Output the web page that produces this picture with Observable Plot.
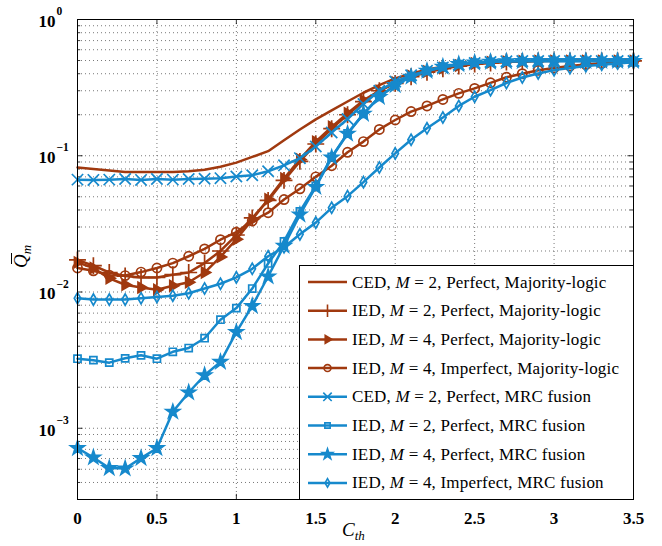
<!DOCTYPE html>
<html><head><meta charset="utf-8">
<script src="https://cdn.jsdelivr.net/npm/d3@7"></script>
<script src="https://cdn.jsdelivr.net/npm/@observablehq/plot@0.6"></script>
<style>body{margin:0;background:#fff}</style>
</head><body><div id="chart"></div>
<script>
// ---------- data ----------
const cth = [0,0.1,0.2,0.3,0.4,0.5,0.6,0.7,0.8,0.9,1.0,1.1,1.2,1.3,1.4,1.5,1.6,1.7,1.8,1.9,2.0,2.1,2.2,2.3,2.4,2.5,2.6,2.7,2.8,2.9,3.0,3.1,3.2,3.3,3.4,3.5];

const cedM2PerfMaj = [0.082,0.080,0.078,0.076,0.076,0.076,0.076,0.077,0.079,0.083,0.089,0.098,0.108,0.130,0.156,0.185,0.215,0.250,0.290,0.330,0.370,0.400,0.430,0.450,0.465,0.475,0.485,0.490,0.495,0.497,0.498,0.498,0.498,0.498,0.498,0.498];
const iedM2PerfMaj = [0.0172,0.0156,0.0139,0.0131,0.0128,0.0128,0.0134,0.0139,0.0163,0.0200,0.0262,0.035,0.047,0.066,0.091,0.122,0.158,0.200,0.250,0.300,0.340,0.380,0.410,0.435,0.455,0.470,0.480,0.488,0.493,0.496,0.497,0.497,0.497,0.497,0.497,0.497];
const iedM4PerfMaj = [0.0165,0.0150,0.0126,0.0113,0.0108,0.0104,0.0111,0.0118,0.0139,0.0181,0.0244,0.034,0.048,0.068,0.094,0.127,0.163,0.205,0.255,0.300,0.345,0.385,0.415,0.440,0.460,0.475,0.485,0.490,0.494,0.496,0.497,0.497,0.497,0.497,0.497,0.497];
const iedM4ImpMaj  = [0.0150,0.0143,0.0133,0.0132,0.0140,0.0150,0.0163,0.0183,0.0207,0.0242,0.0275,0.0332,0.0382,0.0477,0.0572,0.070,0.0845,0.106,0.127,0.156,0.183,0.211,0.232,0.259,0.287,0.312,0.343,0.377,0.400,0.424,0.440,0.455,0.467,0.477,0.485,0.492];
const cedM2PerfMrc = [0.0668,0.0665,0.0668,0.0675,0.0665,0.0675,0.0668,0.0675,0.0678,0.0685,0.0705,0.072,0.077,0.085,0.096,0.117,0.148,0.186,0.240,0.300,0.350,0.390,0.420,0.445,0.465,0.480,0.488,0.493,0.495,0.496,0.496,0.496,0.496,0.496,0.496,0.496];
const iedM2PerfMrc = [0.00324,0.00316,0.00303,0.00326,0.00343,0.00324,0.00364,0.00388,0.00458,0.00626,0.00762,0.0106,0.0162,0.0235,0.039,0.060,0.098,0.146,0.203,0.270,0.330,0.380,0.420,0.450,0.470,0.482,0.489,0.493,0.495,0.496,0.496,0.496,0.496,0.496,0.496,0.496];
const iedM4PerfMrc = [0.000714,0.00061,0.00051,0.000506,0.000604,0.000714,0.00132,0.00183,0.00245,0.00307,0.00508,0.0079,0.013,0.0218,0.037,0.059,0.097,0.145,0.203,0.270,0.330,0.380,0.420,0.450,0.470,0.482,0.489,0.493,0.495,0.496,0.496,0.496,0.496,0.496,0.496,0.496];
const iedM4ImpMrc  = [0.0090,0.0088,0.0088,0.0088,0.0090,0.0092,0.0094,0.0098,0.0106,0.0115,0.0128,0.0148,0.0183,0.0213,0.0265,0.0323,0.0415,0.0505,0.064,0.082,0.104,0.131,0.159,0.191,0.232,0.271,0.303,0.342,0.375,0.402,0.425,0.440,0.455,0.466,0.476,0.486];

const legendLabels = [
  "CED, |M| = 2, Perfect, Majority-logic",
  "IED, |M| = 2, Perfect, Majority-logic",
  "IED, |M| = 4, Perfect, Majority-logic",
  "IED, |M| = 4, Imperfect, Majority-logic",
  "CED, |M| = 2, Perfect, MRC fusion",
  "IED, |M| = 2, Perfect, MRC fusion",
  "IED, |M| = 4, Perfect, MRC fusion",
  "IED, |M| = 4, Imperfect, MRC fusion"
];
const seriesValues = [cedM2PerfMaj, iedM2PerfMaj, iedM4PerfMaj, iedM4ImpMaj, cedM2PerfMrc, iedM2PerfMrc, iedM4PerfMrc, iedM4ImpMrc];

const xTicks = [0,0.5,1,1.5,2,2.5,3,3.5];
const yMajor = [1e-3,1e-2,1e-1,1];
const yExponents = ["\u22123","\u22122","\u22121","0"];
const yMinor = [3e-4,4e-4,5e-4,6e-4,7e-4,8e-4,9e-4,2e-3,3e-3,4e-3,5e-3,6e-3,7e-3,8e-3,9e-3,2e-2,3e-2,4e-2,5e-2,6e-2,7e-2,8e-2,9e-2,0.2,0.3,0.4,0.5,0.6,0.7,0.8,0.9];

// ---------- styles ----------
const BROWN = "#a0390f", BLUE = "#1689cc";
const styles = [
  {color: BROWN, symbol: null},
  {color: BROWN, symbol: "plus", r: 5.5, fill: "none"},
  {color: BROWN, symbol: "triangle", r: 3.9, fill: BROWN, rotate: 90},
  {color: BROWN, symbol: "circle", r: 4.6, fill: "none"},
  {color: BLUE, symbol: "times", r: 5.2, fill: "none"},
  {color: BLUE, symbol: "square", r: 4, fill: "none"},
  {color: BLUE, symbol: "star", r: 4.3, fill: BLUE},
  {color: BLUE, symbol: "diamond", r: 3.4, fill: "none"}
];

const series = seriesValues.map((vals, i) => cth.map((x, j) => ({x, y: vals[j], s: i})));

const YMIN = 3e-4, YMAX = 1, XMIN = 0, XMAX = 3.5;
const FONT = "'Liberation Serif', 'Times New Roman', serif";

const marks = [
  Plot.ruleY(yMinor.concat(yMajor), {stroke: "#555", strokeWidth: 0.8, strokeDasharray: "1,3"}),
  Plot.ruleX(xTicks.slice(1, -1), {stroke: "#555", strokeWidth: 0.8, strokeDasharray: "1,3"}),
  // inward ticks
  Plot.ruleX(xTicks, {y1: YMIN, y2: YMIN * 1.09, stroke: "black", strokeWidth: 0.8}),
  Plot.ruleX(xTicks, {y1: YMAX, y2: YMAX / 1.09, stroke: "black", strokeWidth: 0.8}),
  Plot.ruleY(yMajor, {x1: XMIN, x2: XMIN + 0.035, stroke: "black", strokeWidth: 0.8}),
  Plot.ruleY(yMajor, {x1: XMAX, x2: XMAX - 0.035, stroke: "black", strokeWidth: 0.8}),
  Plot.ruleY(yMinor, {x1: XMIN, x2: XMIN + 0.02, stroke: "black", strokeWidth: 0.8}),
  Plot.ruleY(yMinor, {x1: XMAX, x2: XMAX - 0.02, stroke: "black", strokeWidth: 0.8})
];

series.forEach((data, i) => {
  const st = styles[i];
  marks.push(Plot.line(data, {x: "x", y: "y", stroke: st.color, strokeWidth: 2.5}));
  if (st.symbol) {
    marks.push(Plot.dot(data, {x: "x", y: "y", symbol: () => st.symbol, r: st.r, stroke: st.color,
      fill: st.fill, strokeWidth: 1.7, rotate: st.rotate || 0}));
  }
});

marks.push(Plot.frame({stroke: "black", strokeWidth: 1}));
// tick labels
marks.push(Plot.text(xTicks, {x: d => d, y: () => YMIN, dy: 19, text: d => String(d),
  fontSize: 17, fontWeight: "bold", fontFamily: FONT}));
marks.push(Plot.text(yMajor, {x: () => XMIN, y: d => d, dx: -22, dy: 2, text: () => "10", textAnchor: "end",
  fontSize: 17, fontWeight: "bold", fontFamily: FONT}));
marks.push(Plot.text(yMajor, {x: () => XMIN, y: d => d, dx: -21, dy: -8, text: (d, i) => yExponents[i], textAnchor: "start",
  fontSize: 11.5, fontWeight: "bold", fontFamily: FONT}));

const plot = Plot.plot({
  width: 662, height: 546,
  marginLeft: 77, marginRight: 29, marginTop: 19, marginBottom: 47,
  x: {domain: [XMIN, XMAX], axis: null},
  y: {type: "log", domain: [YMIN, YMAX], axis: null},
  style: {fontFamily: FONT, background: "white", overflow: "visible"},
  marks
});
document.getElementById("chart").appendChild(plot);

// ---------- labels & legend ----------
const svg = d3.select(plot);
// x label
const xl = svg.append("text").attr("x", 342).attr("y", 536).attr("text-anchor", "start")
  .attr("font-family", FONT).attr("font-style", "italic").attr("font-size", 19);
xl.append("tspan").text("C");
xl.append("tspan").attr("font-size", 13).attr("dy", 4).text("th");
// y label
const yg = svg.append("g").attr("transform", "translate(27,268) rotate(-90)");
const yl = yg.append("text").attr("x", 0).attr("y", 0).attr("text-anchor", "start")
  .attr("font-family", FONT).attr("font-style", "italic").attr("font-size", 19);
yl.append("tspan").text("Q");
yl.append("tspan").attr("font-size", 13).attr("dy", 4).text("m");
yg.append("line").attr("x1", 4).attr("x2", 15).attr("y1", -15.5).attr("y2", -15.5)
  .attr("stroke", "black").attr("stroke-width", 1);

// legend
const lg = svg.append("g");
lg.append("rect").attr("x", 299.5).attr("y", 265.5).attr("width", 334).attr("height", 234)
  .attr("fill", "white").attr("stroke", "black").attr("stroke-width", 1);
const symMap = {plus: d3.symbolPlus, triangle: d3.symbolTriangle, circle: d3.symbolCircle,
  times: d3.symbolTimes, square: d3.symbolSquare, star: d3.symbolStar, diamond: d3.symbolDiamond};
legendLabels.forEach((lab, i) => {
  const st = styles[i];
  const y = 282 + i * 28.7;
  lg.append("line").attr("x1", 308).attr("x2", 347).attr("y1", y).attr("y2", y)
    .attr("stroke", st.color).attr("stroke-width", 2.5);
  if (st.symbol) {
    const r = st.r * 0.75;
    lg.append("path").attr("d", d3.symbol(symMap[st.symbol], Math.PI * r * r)())
      .attr("transform", `translate(327.5,${y}) rotate(${st.rotate || 0})`)
      .attr("fill", st.fill).attr("stroke", st.color).attr("stroke-width", 1.6);
  }
  const parts = lab.split("|");
  const t = lg.append("text").attr("x", 352).attr("y", y + 5.5).attr("text-anchor", "start")
    .attr("font-family", FONT).attr("font-size", 17).attr("letter-spacing", 0.2);
  t.append("tspan").text(parts[0]);
  t.append("tspan").attr("font-style", "italic").text(parts[1]);
  t.append("tspan").text(parts[2]);
});
</script></body></html>
